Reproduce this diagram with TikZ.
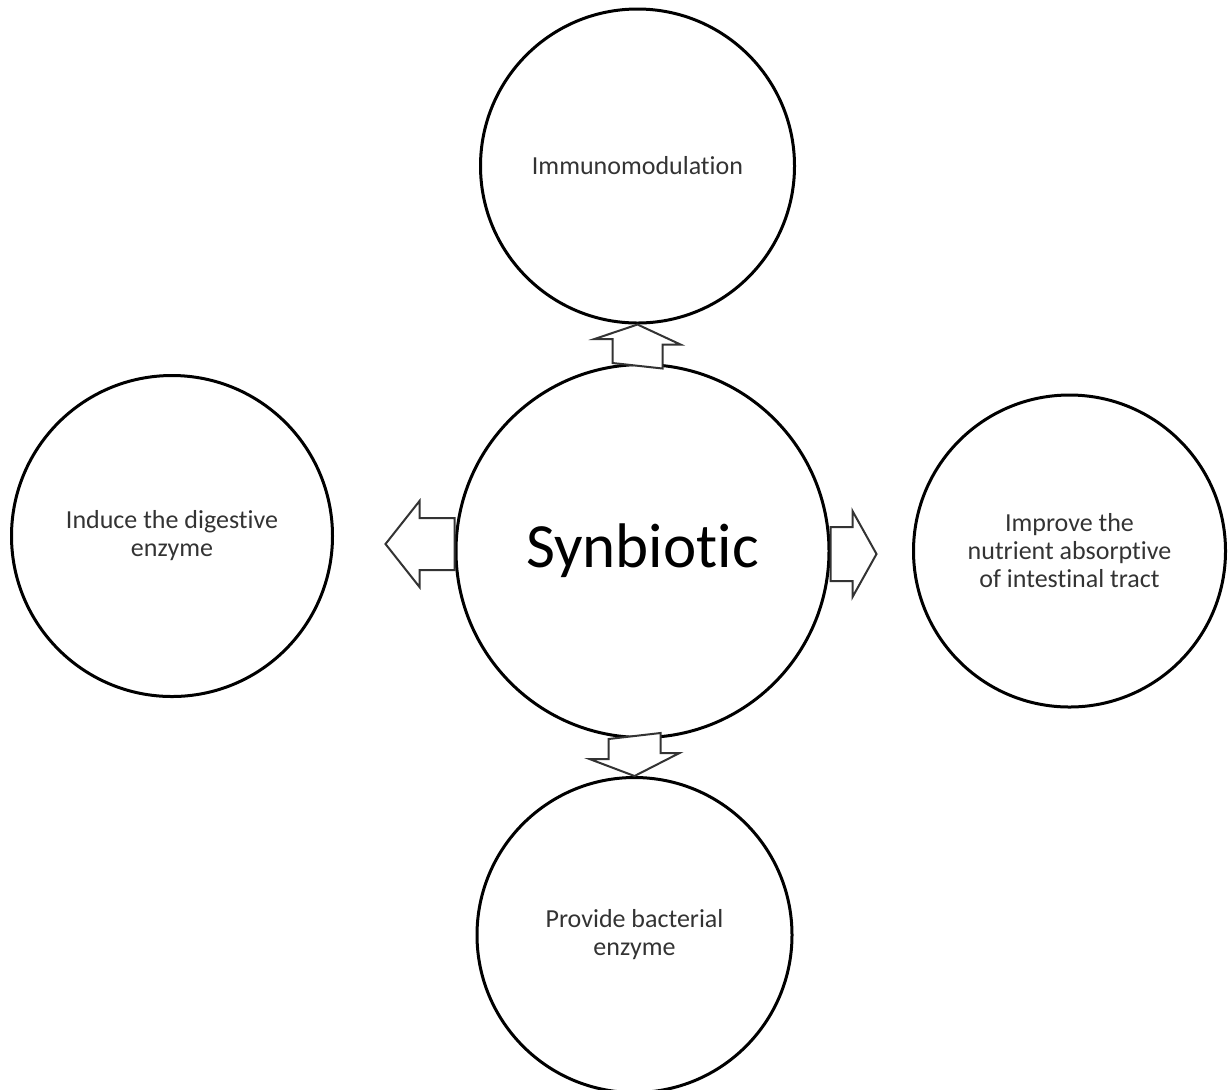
\documentclass[tikz,border=0pt]{standalone}
\usepackage{fontspec}
\setmainfont{Carlito}[Ligatures=NoCommon]
\usepackage{tikz}
\usetikzlibrary{calc}
\definecolor{txtgray}{HTML}{333333}

\begin{document}
\begin{tikzpicture}[
      x=0.5pt, y=-0.5pt,
      bubble/.style={
        circle, draw, line width=1.5pt,
        inner sep=0pt, align=center, text=txtgray,
        font=\fontsize{13}{14}\selectfont
      },
      blockarrow/.style={
        draw=black!80, fill=white, line width=1pt
      }
    ]
      \useasboundingbox (0,0) rectangle (1230,1089);

      \node[bubble, minimum size=186.5pt, text=black,
        font=\fontsize{31.5}{36}\selectfont] (syn) at (642.5,551) {Synbiotic};
      \node[bubble, minimum size=157pt] (imm) at (637.5,166) {Immunomodulation};
      \node[bubble, minimum size=160.5pt] (ind) at (172,536)
        {Induce the digestive\\enzyme};
      \node[bubble, minimum size=156pt] (imp) at (1069.5,551)
        {Improve the\\nutrient absorptive\\of intestinal tract};
      \node[bubble, minimum size=157.5pt] (prov) at (634.5,935)
        {Provide bacterial\\enzyme};

      % block arrows
      \draw[blockarrow] (syn.north -| imm.south) ++(-25,0) -- ++(0,-24) -- ++(-18,0)
        -- (imm.south) -- ++(43,20) -- ++(-18,0) -- ++(0,24) -- cycle;
      \draw[blockarrow] (syn.south -| prov.north) ++(-26,0) -- ++(0,20) -- ++(-19,0)
        -- (prov.north) -- ++(45,-23) -- ++(-19,0) -- ++(0,-20) -- cycle;
      \draw[blockarrow] ($(syn.west)+(0,-33)$) -- ++(-35,0) -- ++(0,-17)
        -- ++(-34,43) -- ++(34,43) -- ++(0,-17) -- ++(35,0) -- cycle;
      \draw[blockarrow] ($(syn.east)+(0,-24)$) -- ++(22,0) -- ++(0,-16)
        -- ++(24,43) -- ++(-24,43) -- ++(0,-16) -- ++(-22,0) -- cycle;
    \end{tikzpicture}
\end{document}
